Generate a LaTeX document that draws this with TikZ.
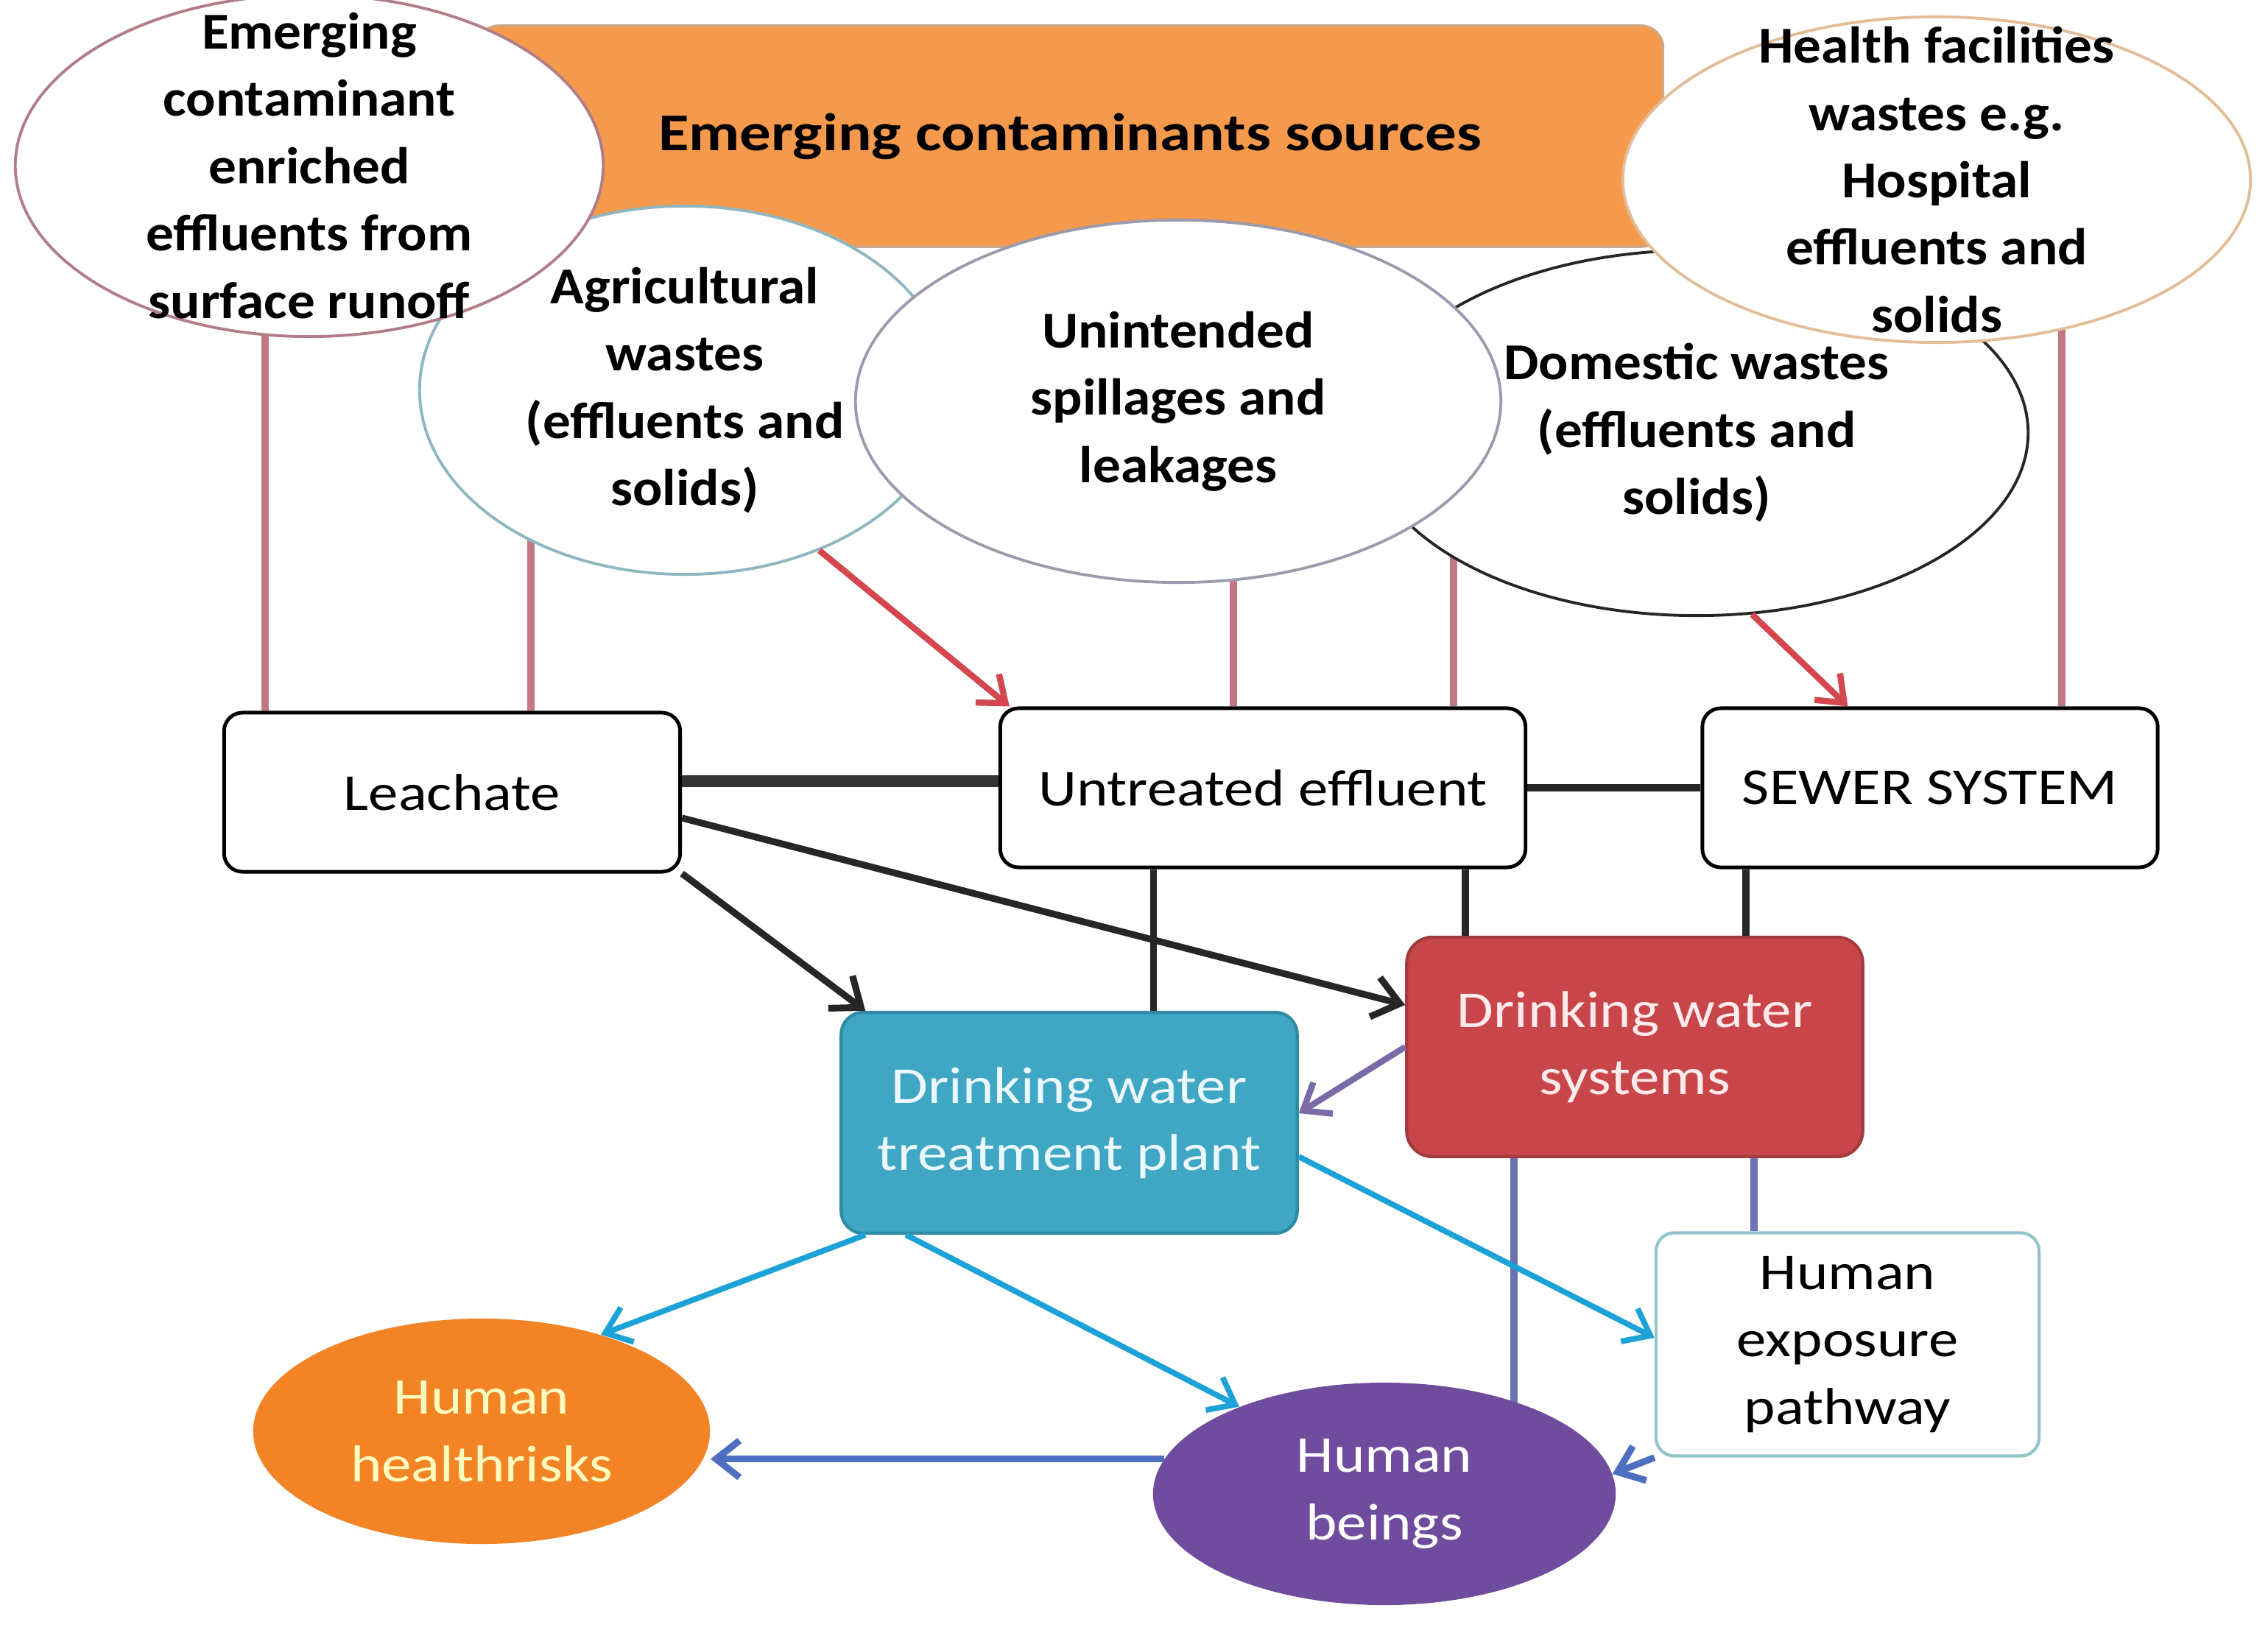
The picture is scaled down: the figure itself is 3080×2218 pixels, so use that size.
\documentclass[tikz,border=0pt]{standalone}
\usepackage{fontspec}
\setmainfont{Carlito}
\newfontfamily\widefont[FakeStretch=1.15]{Carlito}
\newfontfamily\srcfont[FakeStretch=1.07]{Carlito}
\newfontfamily\bannerfont[FakeStretch=1.18]{Carlito}
\usetikzlibrary{shapes.geometric,arrows.meta,backgrounds}

\definecolor{bannerorange}{HTML}{F59A4C}
\definecolor{runoffedge}{HTML}{B07D88}
\definecolor{agriedge}{HTML}{8FB6C0}
\definecolor{spilledge}{HTML}{9B9BAE}
\definecolor{healthedge}{HTML}{E3BC98}
\definecolor{feedrose}{HTML}{C27883}
\definecolor{spillred}{HTML}{D4474F}
\definecolor{plantteal}{HTML}{3FA6C4}
\definecolor{plantedge}{HTML}{2F8AA4}
\definecolor{systemred}{HTML}{C8464A}
\definecolor{systemedge}{HTML}{A23A3E}
\definecolor{tapcyan}{HTML}{1DA2D8}
\definecolor{slateblue}{HTML}{6A72B0}
\definecolor{reachblue}{HTML}{4E6EC0}
\definecolor{recyclepurple}{HTML}{7A6AA8}
\definecolor{exposeedge}{HTML}{93C4CC}
\definecolor{beingpurple}{HTML}{6F4C9E}
\definecolor{riskorange}{HTML}{F28426}

\begin{document}
\begin{tikzpicture}[x=0.01cm,y=-0.01cm,
  font=\widefont\fontsize{20}{26}\selectfont,
  source/.style={ellipse,fill=white,line width=1.1pt,inner sep=0pt},
  srctext/.style={align=center,font=\srcfont\fontsize{20}{26}\selectfont\bfseries},
  box/.style={rectangle,rounded corners=0.25cm,draw=black,line width=1.4pt,fill=white,
    minimum width=6.19cm,minimum height=2.16cm,align=center},
  feed/.style={draw=feedrose,line width=3pt},
  spill/.style={draw=spillred,line width=2.4pt,-{Straight Barb[length=0.32cm,width=0.5cm]}},
  flow/.style={draw=black!85,line width=2.6pt,-{Straight Barb[length=0.35cm,width=0.55cm]}},
  tap/.style={draw=tapcyan,line width=2.2pt,-{Straight Barb[length=0.32cm,width=0.5cm]}},
  supply/.style={draw=slateblue,line width=3pt},
  reach/.style={draw=reachblue,line width=2.6pt,-{Straight Barb[length=0.32cm,width=0.5cm]}},
  recycle/.style={draw=recyclepurple,line width=2.4pt,-{Straight Barb[length=0.32cm,width=0.5cm]}}
]
\useasboundingbox (0,0) rectangle (3080,2218);

% Sources banner
\node[rectangle,rounded corners=0.3cm,fill=bannerorange,draw=bannerorange!70!black!60,line width=1pt,
  minimum width=16.1cm,minimum height=3.0cm,font=\bannerfont\fontsize{20.5}{26}\selectfont\bfseries]
  (banner) at (1453,185) {Emerging contaminants sources};

% Source ellipses
\node[source,draw=black!85,minimum width=9.0cm,minimum height=4.96cm,
  label={[srctext]center:{Domestic wastes\\(effluents and\\solids)}}] (dom) at (2304,588) {};
\node[source,draw=agriedge,minimum width=7.2cm,minimum height=5.0cm,
  label={[srctext]center:{Agricultural\\wastes\\(effluents and\\solids)}}] (agri) at (930,530) {};
\node[source,draw=spilledge,minimum width=8.76cm,minimum height=4.92cm,
  label={[srctext]center:{Unintended\\spillages and\\leakages}}] (spill) at (1600,545) {};
\node[source,draw=healthedge,minimum width=8.52cm,minimum height=4.42cm,
  label={[srctext]center:{Health facilities\\wastes e.g.\\Hospital\\effluents and\\solids}}] (health) at (2630,244) {};
\node[source,draw=runoffedge,minimum width=7.98cm,minimum height=4.64cm,
  label={[srctext]center:{Emerging\\contaminant\\enriched\\effluents from\\surface runoff}}] (runoff) at (420,225) {};

% Receiving boxes
\node[box] (leach) at (614,1076) {Leachate};
\node[box,minimum width=7.13cm] (untreated) at (1715,1070) {Untreated effluent};
\node[box,minimum width=6.18cm] (sewer) at (2621,1070) {SEWER SYSTEM};

% Drinking water
\node[rectangle,rounded corners=0.3cm,fill=plantteal,draw=plantedge,line width=1.2pt,
  minimum width=6.19cm,minimum height=3.0cm,align=center,text=cyan!8]
  (plant) at (1452,1525) {Drinking water\\treatment plant};
\node[rectangle,rounded corners=0.35cm,fill=systemred,draw=systemedge,line width=1.2pt,
  minimum width=6.19cm,minimum height=2.98cm,align=center,text=red!8]
  (system) at (2220,1422) {Drinking water\\systems};

% Receptors
\node[box,draw=exposeedge,line width=1.2pt,minimum width=5.2cm,minimum height=3.03cm]
  (expose) at (2509,1826) {Human\\exposure\\pathway};
\node[ellipse,fill=beingpurple,inner sep=0pt,minimum width=6.28cm,minimum height=3.02cm,
  align=center,text=white] (beings) at (1880,2029) {Human\\beings};
\node[ellipse,fill=riskorange,inner sep=0pt,minimum width=6.2cm,minimum height=3.06cm,
  align=center,text=yellow!25] (risks) at (654,1944) {Human\\healthrisks};

% Drops from the sources
\begin{scope}[on background layer]
\draw[feed] ([xshift=-0.6cm]runoff.center) -- ([xshift=-0.6cm]runoff.center |- leach.north);
\draw[feed] ([xshift=-2.09cm]agri.center) -- ([xshift=-2.09cm]agri.center |- leach.north);
\draw[feed] ([xshift=0.75cm]spill.center) -- ([xshift=0.75cm]spill.center |- untreated.north);
\draw[feed] ([xshift=-3.3cm]dom.center) -- ([xshift=-3.3cm]dom.center |- untreated.north);
\draw[feed] ([xshift=1.7cm]health.center) -- ([xshift=1.7cm]health.center |- sewer.north);
\draw[supply] ([xshift=-1.64cm]system.south) -- ([xshift=-1.64cm]system.south |- beings.center);
\end{scope}
\draw[spill] (agri.-50) -- ([xshift=0.15cm]untreated.north west);
\draw[spill] (dom.-73) -- ([xshift=2cm]sewer.north west);

% Links between boxes
\draw[draw=black!80,line width=4.5pt] ([yshift=0.15cm]leach.east) -- ([yshift=0.15cm]leach.east -| untreated.west);
\draw[draw=black!85,line width=3pt] (untreated) -- (sewer);
\draw[flow] ([yshift=-0.35cm]leach.east) -- ([yshift=0.57cm]system.west);
\draw[flow] (leach.south east) -- ([xshift=0.35cm]plant.north west);
\draw[draw=black!85,line width=2.6pt] ([xshift=-1.48cm]untreated.south) -- ([xshift=-1.48cm]untreated.south |- plant.north);
\draw[draw=black!85,line width=3pt] ([xshift=2.75cm]untreated.south) -- ([xshift=2.75cm]untreated.south |- system.north);
\draw[draw=black!85,line width=3pt] ([xshift=-2.5cm]sewer.south) -- ([xshift=-2.5cm]sewer.south |- system.north);

% Towards people
\draw[recycle] (system.west) -- ([yshift=0.13cm]plant.east);
\draw[tap] ([xshift=0.35cm]plant.south west) -- (risks.39);
\draw[tap] ([xshift=0.9cm]plant.south west) -- (beings.149);
\draw[tap] ([yshift=-0.46cm]plant.east) -- ([yshift=0.09cm]expose.west);
\draw[supply] ([xshift=1.62cm]system.south) -- ([xshift=1.62cm]system.south |- expose.north);
\draw[reach] (expose.south west) -- (beings.5);
\draw[reach] (beings.171) -- (beings.171 -| risks.east);

\end{tikzpicture}
\end{document}
